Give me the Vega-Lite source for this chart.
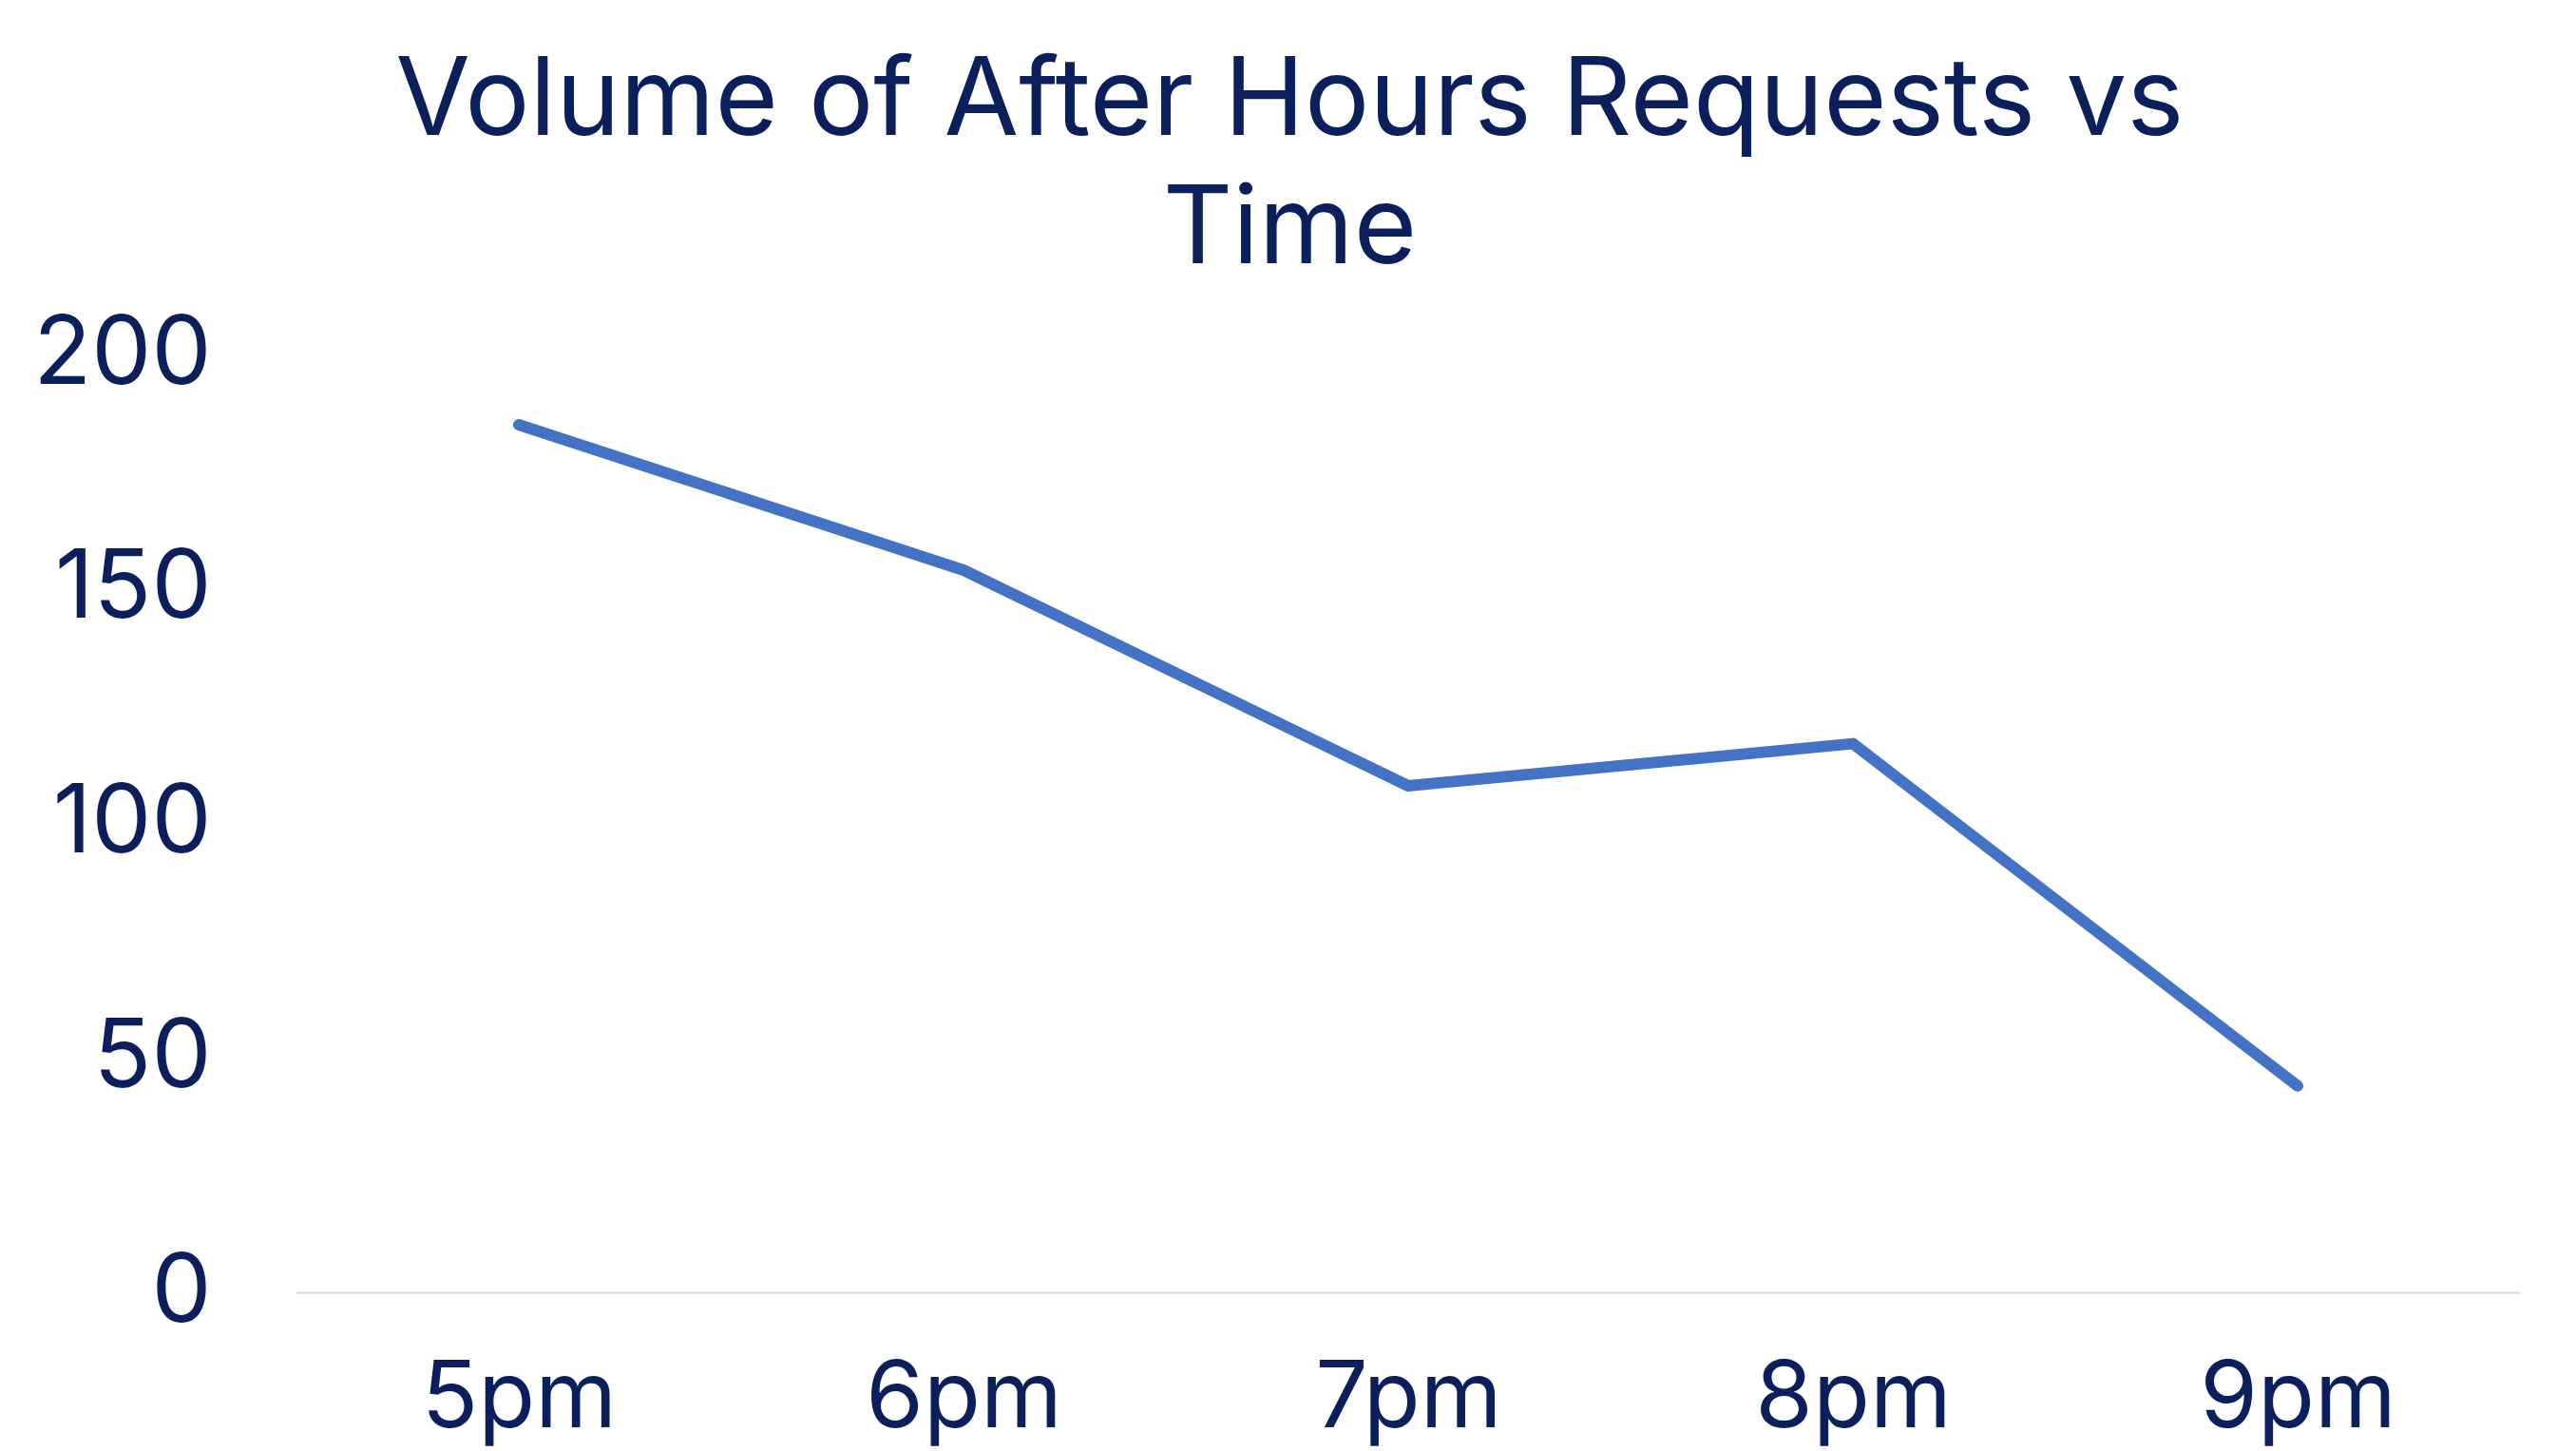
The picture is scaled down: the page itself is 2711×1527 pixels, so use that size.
{
  "$schema": "https://vega.github.io/schema/vega-lite/v6.json",
  "autosize": {"type": "none"},
  "padding": {"left": 312, "top": 373, "right": 59, "bottom": 167},
  "width": 2340,
  "height": 987,
  "background": "white",
  "title": {
    "text": ["Volume of After Hours Requests vs", "Time"],
    "fontSize": 114,
    "font": "Inter",
    "fontWeight": "normal",
    "color": "#0B1F5C",
    "lineHeight": 135,
    "anchor": "middle",
    "frame": "bounds",
    "dx": 14,
    "offset": 22
  },
  "config": {"view": {"stroke": null}},
  "data": {
    "values": [
      {"time": "5pm", "requests": 185},
      {"time": "6pm", "requests": 154},
      {"time": "7pm", "requests": 108},
      {"time": "8pm", "requests": 117},
      {"time": "9pm", "requests": 44}
    ]
  },
  "mark": {"type": "line", "color": "#4472C4", "strokeWidth": 12, "strokeCap": "round", "strokeJoin": "round"},
  "encoding": {
    "x": {
      "field": "time", "type": "ordinal", "sort": null,
      "scale": {"type": "point", "padding": 0.5},
      "axis": {
        "title": null, "labelAngle": 0, "ticks": false, "tickSize": 0,
        "labelFontSize": 98, "labelFont": "Inter", "labelColor": "#0B1F5C",
        "labelBaseline": "alphabetic", "labelPadding": 141, "labelLimit": 0, "labelOverlap": false,
        "domainColor": "#D9D9D9", "domainWidth": 2, "grid": false
      }
    },
    "y": {
      "field": "requests", "type": "quantitative",
      "scale": {"domain": [0, 200]},
      "axis": {
        "title": null, "values": [0, 50, 100, 150, 200], "ticks": false, "tickSize": 0,
        "domain": false, "grid": false, "labelLimit": 0, "labelOverlap": false,
        "labelFontSize": 100, "labelFont": "Inter", "labelColor": "#0B1F5C",
        "labelPadding": 90
      }
    }
  }
}
